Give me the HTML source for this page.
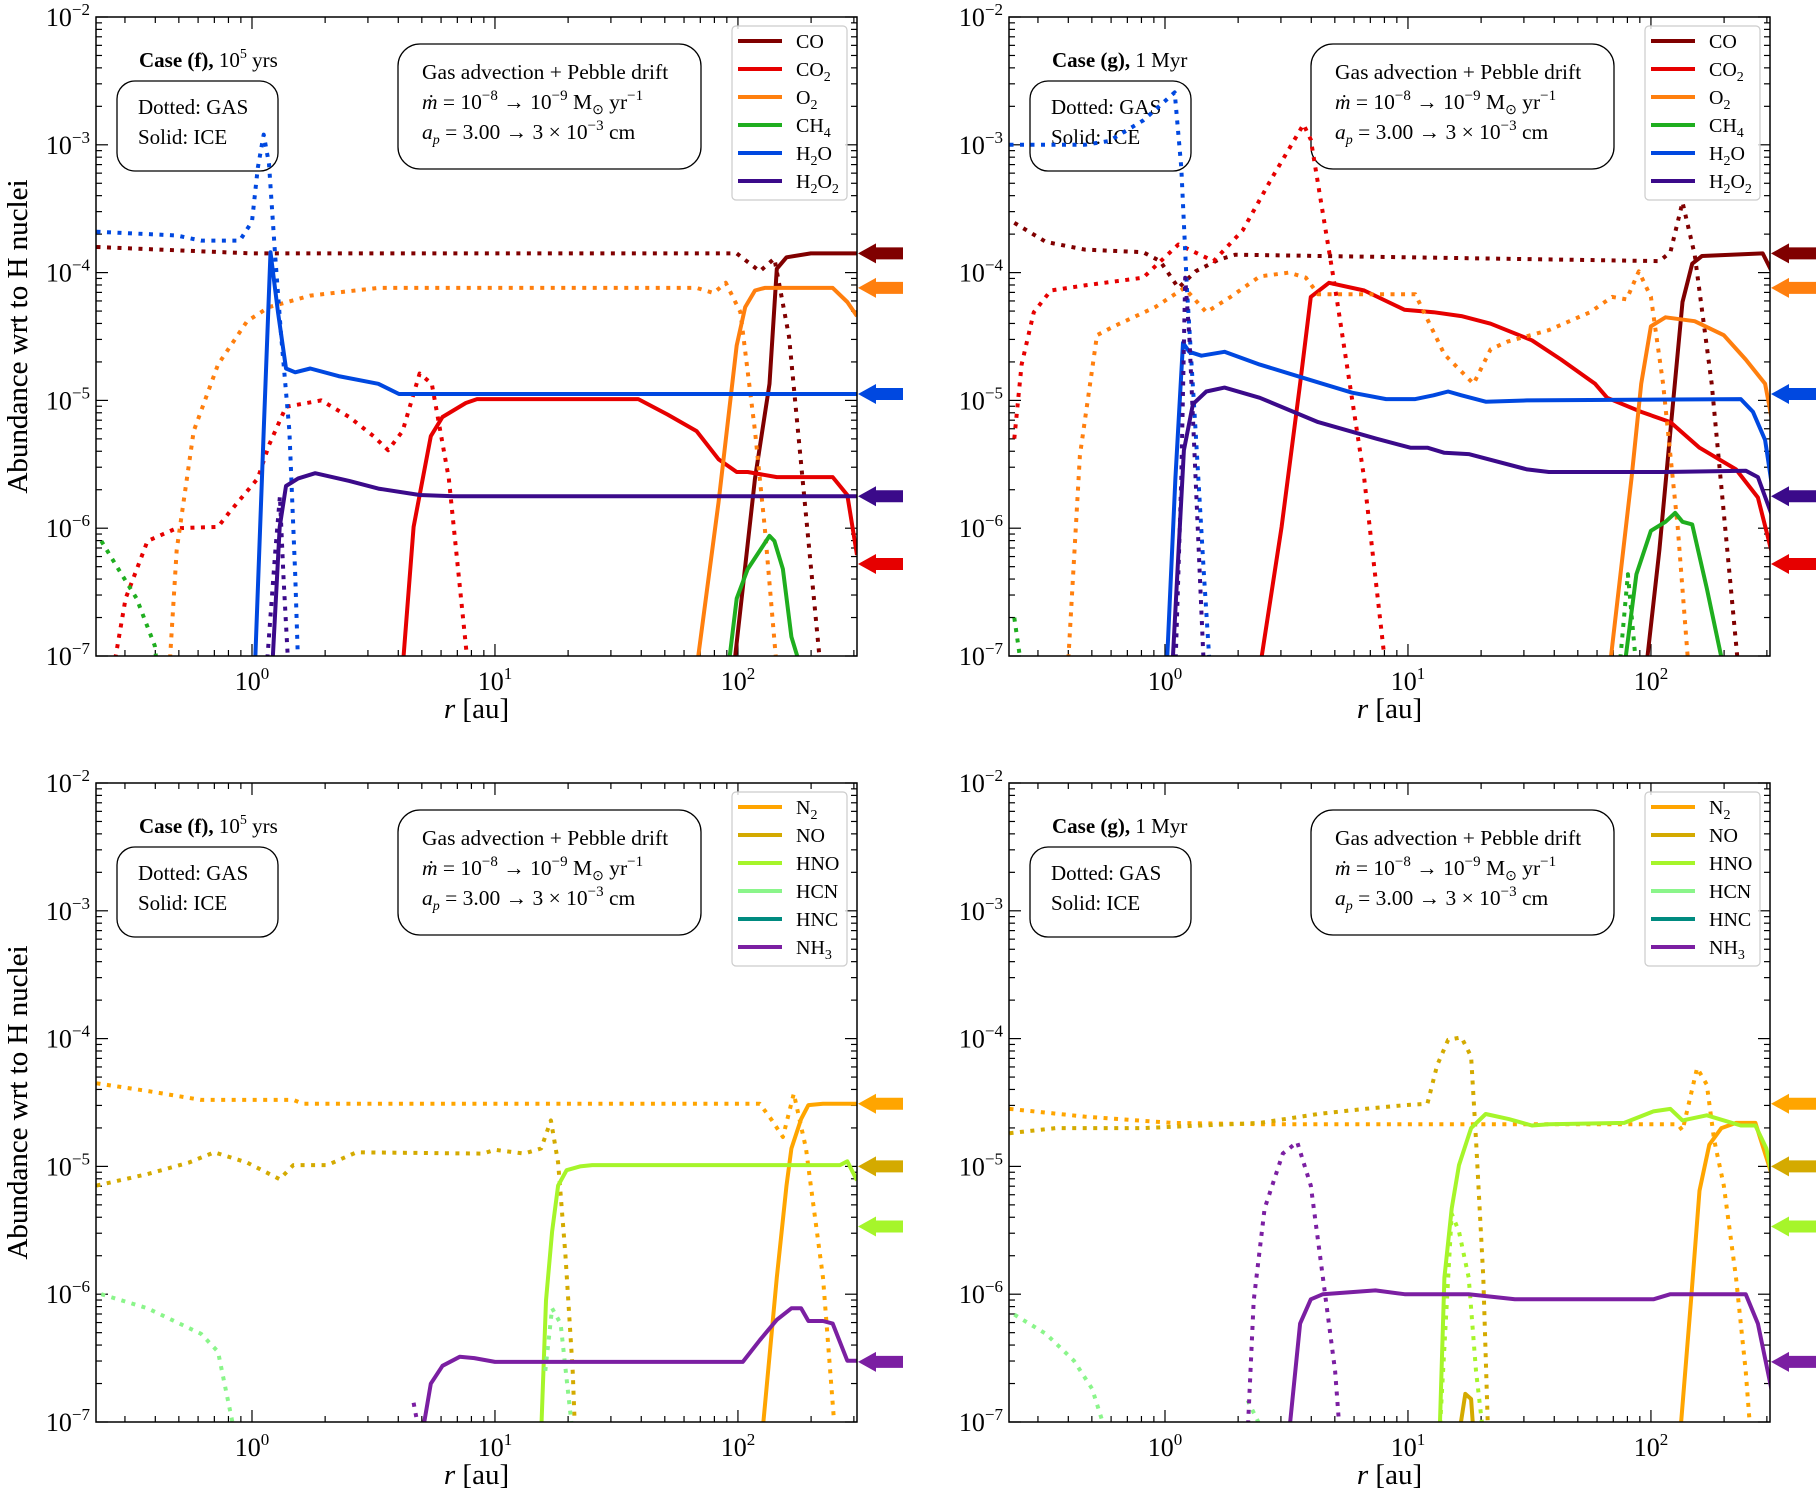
<!DOCTYPE html>
<html><head><meta charset="utf-8"><style>
html,body{margin:0;padding:0;background:#fff;}
svg{display:block;font-family:"Liberation Serif",serif;}
</style></head><body>
<svg id="fig" width="1819" height="1495" viewBox="0 0 1819 1495" xmlns="http://www.w3.org/2000/svg"></svg>
<script>
// ---- axis config ----
const XMIN=-0.642, XMAX=2.49, YTOP=-2, YBOT=-7;
const W=761, H=639;
const xTickExps=[0,1,2];
const yTickExps=[-2,-3,-4,-5,-6,-7];

// ---- data: flat [log10 r, log10 abundance] pairs ----
// Panel (f) top
const f_CO_gas=[-0.64,-3.80,0,-3.85,1.995,-3.85,2.09,-3.99,2.15,-3.89,2.21,-4.5,2.34,-7.1];
const f_CO_ice=[1.983,-7.1,2.07,-5.61,2.13,-4.87,2.16,-3.97,2.20,-3.88,2.30,-3.85,2.49,-3.85];
const f_CO2_gas=[-0.57,-7.1,-0.52,-6.55,-0.43,-6.10,-0.31,-6.0,-0.14,-5.99,-0.095,-5.88,0.024,-5.61,0.07,-5.35,0.14,-5.05,0.285,-5.0,0.40,-5.13,0.50,-5.28,0.56,-5.39,0.62,-5.24,0.69,-4.79,0.74,-4.87,0.81,-5.61,0.89,-7.1];
const f_CO2_ice=[0.62,-7.1,0.665,-5.99,0.736,-5.28,0.784,-5.13,0.88,-5.02,0.926,-4.99,1.59,-4.99,1.71,-5.11,1.83,-5.24,1.92,-5.46,1.995,-5.56,2.04,-5.56,2.16,-5.6,2.39,-5.6,2.45,-5.74,2.49,-6.21];
const f_O2_gas=[-0.34,-7.1,-0.31,-6.17,-0.24,-5.24,-0.14,-4.72,-0.02,-4.38,0.07,-4.27,0.24,-4.18,0.52,-4.12,1.83,-4.12,1.90,-4.16,1.95,-4.08,2.01,-4.31,2.07,-5.24,2.11,-5.99,2.16,-7.1];
const f_O2_ice=[1.83,-7.1,1.92,-5.80,1.995,-4.57,2.03,-4.27,2.07,-4.14,2.11,-4.12,2.39,-4.12,2.45,-4.23,2.49,-4.34];
const f_CH4_gas=[-0.62,-6.10,-0.55,-6.32,-0.475,-6.55,-0.40,-6.92,-0.39,-7.1];
const f_CH4_ice=[1.96,-7.1,1.995,-6.55,2.04,-6.32,2.13,-6.06,2.15,-6.1,2.185,-6.32,2.22,-6.85,2.26,-7.1];
const f_H2O_gas=[-0.64,-3.68,-0.31,-3.71,-0.21,-3.75,-0.05,-3.75,0,-3.60,0.024,-3.18,0.048,-2.92,0.07,-3.15,0.095,-3.86,0.12,-4.49,0.154,-5.24,0.178,-6.36,0.19,-7.1];
const f_H2O_ice=[0.012,-7.1,0.048,-5.24,0.076,-3.84,0.107,-4.31,0.14,-4.75,0.178,-4.78,0.24,-4.75,0.356,-4.81,0.52,-4.87,0.605,-4.95,2.49,-4.95];
const f_H2O2_gas=[0.06,-7.1,0.095,-6.2,0.115,-5.75,0.13,-6.4,0.15,-7.1];
const f_H2O2_ice=[0.083,-7.1,0.114,-5.99,0.14,-5.67,0.19,-5.61,0.26,-5.57,0.40,-5.63,0.52,-5.69,0.69,-5.74,0.83,-5.75,2.49,-5.75];
// Panel (g) top
const g_CO_gas=[-0.62,-3.61,-0.49,-3.76,-0.33,-3.82,-0.09,-3.84,-0.02,-3.91,0.055,-4.12,0.126,-3.99,0.22,-3.90,0.29,-3.86,2.035,-3.91,2.08,-3.84,2.13,-3.45,2.18,-3.86,2.25,-4.87,2.36,-7.1];
const g_CO_ice=[1.98,-7.1,2.035,-6.17,2.08,-5.24,2.13,-4.23,2.17,-3.93,2.21,-3.87,2.46,-3.85,2.51,-4.04];
const g_CO2_gas=[-0.62,-5.30,-0.59,-4.72,-0.54,-4.31,-0.47,-4.14,-0.33,-4.10,-0.09,-4.04,0.055,-3.78,0.10,-3.82,0.20,-3.91,0.32,-3.67,0.44,-3.26,0.57,-2.84,0.60,-2.96,0.70,-4.12,0.82,-5.61,0.90,-6.96,0.91,-7.1];
const g_CO2_ice=[0.39,-7.1,0.48,-5.99,0.556,-4.87,0.60,-4.19,0.675,-4.08,0.82,-4.14,0.985,-4.29,1.105,-4.31,1.22,-4.34,1.34,-4.40,1.51,-4.53,1.63,-4.68,1.77,-4.87,1.82,-4.98,1.96,-5.09,2.08,-5.17,2.20,-5.37,2.35,-5.54,2.44,-5.76,2.50,-6.21];
const g_O2_gas=[-0.40,-7.1,-0.35,-5.43,-0.28,-4.49,-0.21,-4.42,-0.04,-4.27,0.08,-4.12,0.17,-4.31,0.27,-4.19,0.39,-4.03,0.51,-4.00,0.58,-4.04,0.63,-4.17,1.03,-4.17,1.15,-4.64,1.27,-4.87,1.34,-4.60,1.41,-4.54,1.58,-4.45,1.75,-4.31,1.84,-4.19,1.90,-4.21,1.95,-3.99,2.0,-4.19,2.05,-4.87,2.11,-5.99,2.155,-7.1];
const g_O2_ice=[1.83,-7.1,1.92,-5.61,1.96,-4.87,2.0,-4.42,2.06,-4.35,2.18,-4.38,2.30,-4.49,2.39,-4.68,2.47,-4.87,2.50,-5.17];
const g_CH4_gas=[-0.62,-6.70,-0.59,-7.1];
const g_CH4_gas2=[1.87,-7.1,1.905,-6.36,1.94,-7.1];
const g_CH4_ice=[1.89,-7.1,1.94,-6.36,2.0,-6.02,2.06,-5.95,2.10,-5.88,2.13,-5.95,2.17,-5.97,2.23,-6.47,2.30,-7.1];
const g_H2O_gas=[-0.64,-3.0,-0.33,-3.0,-0.23,-2.97,-0.09,-2.81,0.04,-2.59,0.067,-3.18,0.09,-4.12,0.126,-5.24,0.16,-6.36,0.185,-7.1];
const g_H2O_ice=[0.007,-7.1,0.043,-5.61,0.074,-4.55,0.10,-4.62,0.15,-4.65,0.245,-4.62,0.39,-4.72,0.58,-4.83,0.77,-4.94,0.91,-4.99,1.03,-4.99,1.105,-4.96,1.165,-4.93,1.22,-4.96,1.32,-5.01,1.49,-5.0,2.37,-4.99,2.42,-5.09,2.47,-5.31,2.50,-5.69];
const g_H2O2_gas=[0.043,-7.1,0.067,-5.61,0.083,-4.04,0.10,-4.49,0.126,-5.61,0.16,-7.1];
const g_H2O2_ice=[0.03,-7.1,0.078,-5.39,0.115,-5.03,0.17,-4.93,0.245,-4.90,0.39,-4.98,0.63,-5.17,0.87,-5.30,1.01,-5.37,1.08,-5.37,1.15,-5.41,1.25,-5.42,1.49,-5.54,1.58,-5.56,2.06,-5.56,2.39,-5.55,2.44,-5.60,2.50,-5.91];
// Panel (f) bottom
const f_N2_gas=[-0.64,-4.35,-0.43,-4.41,-0.21,-4.48,0.17,-4.48,0.21,-4.51,2.09,-4.51,2.14,-4.64,2.185,-4.77,2.23,-4.43,2.28,-4.86,2.30,-5.15,2.35,-5.87,2.40,-7.1];
const f_N2_ice=[2.10,-7.1,2.16,-5.87,2.20,-5.15,2.22,-4.86,2.26,-4.63,2.29,-4.52,2.35,-4.51,2.49,-4.51];
const f_NO_gas=[-0.64,-5.15,-0.43,-5.06,-0.26,-4.97,-0.155,-4.89,-0.02,-4.97,0.114,-5.10,0.17,-4.99,0.31,-4.99,0.43,-4.89,0.95,-4.90,1.0,-4.87,1.12,-4.90,1.19,-4.86,1.23,-4.64,1.26,-4.97,1.29,-5.69,1.32,-6.60,1.33,-7.1];
const f_HNO_ice=[1.19,-7.1,1.21,-6.05,1.235,-5.51,1.26,-5.15,1.295,-5.03,1.35,-5.0,1.40,-4.99,2.42,-4.99,2.45,-4.96,2.49,-5.11];
const f_HCN_gas=[-0.62,-6.0,-0.43,-6.11,-0.21,-6.31,-0.14,-6.45,-0.07,-7.1];
const f_HCN_gas2=[1.207,-6.60,1.235,-6.11,1.27,-6.23,1.32,-7.1];
const f_NH3_gas=[0.665,-6.85,0.69,-7.1];
const f_NH3_ice=[0.70,-7.1,0.736,-6.70,0.784,-6.56,0.855,-6.49,0.915,-6.50,1.0,-6.53,2.02,-6.53,2.09,-6.36,2.16,-6.20,2.22,-6.11,2.26,-6.11,2.29,-6.21,2.35,-6.21,2.39,-6.23,2.45,-6.52,2.49,-6.52];
// Panel (g) bottom
const g_N2_gas=[-0.64,-4.55,-0.33,-4.61,0.03,-4.66,0.39,-4.67,2.11,-4.67,2.13,-4.72,2.19,-4.23,2.23,-4.36,2.26,-4.79,2.30,-5.15,2.35,-5.87,2.39,-6.60,2.41,-7.1];
const g_N2_ice=[2.12,-7.1,2.165,-6.05,2.20,-5.19,2.24,-4.83,2.29,-4.70,2.35,-4.66,2.43,-4.66,2.50,-5.08];
const g_NO_gas=[-0.64,-4.74,-0.45,-4.70,-0.09,-4.70,0.39,-4.66,0.63,-4.59,0.82,-4.55,0.99,-4.52,1.08,-4.51,1.12,-4.21,1.165,-4.01,1.22,-3.99,1.26,-4.14,1.28,-4.79,1.31,-5.87,1.33,-7.1];
const g_NO_ice=[1.21,-7.1,1.236,-6.78,1.26,-6.82,1.27,-7.1];
const g_HNO_gas=[1.13,-7.1,1.18,-5.37,1.21,-5.51,1.25,-5.87,1.28,-6.60,1.31,-7.1];
const g_HNO_ice=[1.13,-7.1,1.15,-5.87,1.18,-5.33,1.21,-4.99,1.26,-4.70,1.32,-4.59,1.415,-4.63,1.51,-4.68,1.58,-4.67,1.89,-4.66,2.01,-4.57,2.08,-4.55,2.13,-4.64,2.23,-4.60,2.30,-4.64,2.37,-4.68,2.43,-4.68,2.475,-4.86,2.50,-5.08];
const g_HCN_gas=[-0.62,-6.16,-0.49,-6.31,-0.375,-6.52,-0.30,-6.74,-0.24,-7.1];
const g_HCN_gas2=[0.34,-6.83,0.41,-7.1];
const g_NH3_gas=[0.34,-7.1,0.365,-6.05,0.41,-5.33,0.485,-4.90,0.544,-4.81,0.60,-5.15,0.65,-5.87,0.70,-6.60,0.72,-7.1];
const g_NH3_ice=[0.51,-7.1,0.556,-6.23,0.60,-6.04,0.65,-6.0,0.866,-5.97,0.986,-6.0,1.25,-6.0,1.44,-6.04,2.01,-6.04,2.08,-6.0,2.39,-6.0,2.44,-6.23,2.50,-6.78];

// ---- legends & arrows ----
const topNames=['CO','CO2','O2','CH4','H2O','H2O2'];
const topLabels=['CO','CO<tspan dy="5" font-size="14">2</tspan>','O<tspan dy="5" font-size="14">2</tspan>','CH<tspan dy="5" font-size="14">4</tspan>','H<tspan dy="5" font-size="14">2</tspan><tspan dy="-5">O</tspan>','H<tspan dy="5" font-size="14">2</tspan><tspan dy="-5">O</tspan><tspan dy="5" font-size="14">2</tspan>'];
const topColors=['#800000','#e60000','#ff7f0e','#1fae1f','#0048e0','#3b0a8a'];
const botNames=['N2','NO','HNO','HCN','HNC','NH3'];
const botLabels=['N<tspan dy="5" font-size="14">2</tspan>','NO','HNO','HCN','HNC','NH<tspan dy="5" font-size="14">3</tspan>'];
const botColors=['#ffa500','#d4aa00','#a6f52a','#8af58a','#008b80','#7b1fa2'];
const topArrowVals=[-3.85,-4.12,-4.95,-5.75,-6.28];
const topArrowColors=['#800000','#ff7f0e','#0048e0','#3b0a8a','#e60000'];
const botArrowVals=[-4.51,-5.0,-5.47,-6.53];
const botArrowColors=['#ffa500','#d4aa00','#a6f52a','#7b1fa2'];

const NS='http://www.w3.org/2000/svg';
const fig=document.getElementById('fig');
function el(tag,attrs,parent){const e=document.createElementNS(NS,tag);for(const k in attrs)e.setAttribute(k,attrs[k]);(parent||fig).appendChild(e);return e;}
function X(l){return (l-XMIN)/(XMAX-XMIN)*W;}
function Y(l){return (YTOP-l)/(YTOP-YBOT)*H;}

function drawPanel(p){
  const g=el('g',{transform:`translate(${p.ox},${p.oy})`});
  
  
  const cid='clip-'+p.name;
  const cp=el('clipPath',{id:cid},g);el('rect',{x:0,y:0,width:W,height:H},cp);
  // ticks
  const tk=el('g',{stroke:'#000','stroke-width':1.2},g);
  
  
  for(let d=-1;d<=2;d++)for(let k=1;k<=9;k++){
    const l=d+Math.log10(k); if(l<XMIN||l>XMAX)continue;
    const len=k===1?12:6, x=X(l);
    el('line',{x1:x,y1:H,x2:x,y2:H-len},tk);el('line',{x1:x,y1:0,x2:x,y2:len},tk);
  }
  for(let d=-7;d<=-2;d++)for(let k=1;k<=9;k++){
    const l=d+Math.log10(k); if(l>YTOP+1e-9)continue;
    const len=k===1?12:6, y=Y(l);
    el('line',{x1:0,y1:y,x2:len,y2:y},tk);el('line',{x1:W,y1:y,x2:W-len,y2:y},tk);
  }
  // tick labels
  xTickExps.forEach(e=>{
    const t=el('text',{x:X(e),y:H+34,'text-anchor':'middle','font-size':26},g);
    
    
    t.innerHTML=`10<tspan dy="-11" font-size="17">${e}</tspan>`;
  });
  yTickExps.forEach(e=>{
    const t=el('text',{x:-6,y:Y(e)+9,'text-anchor':'end','font-size':26},g);
    
    
    t.innerHTML=`10<tspan dy="-11" font-size="17">\u2212${-e}</tspan>`;
  });
  // axis titles
  const xt=el('text',{x:W/2,y:H+62,'text-anchor':'middle','font-size':29},g);
  
  
  xt.innerHTML='<tspan font-style="italic">r</tspan> [au]';
  const yt=el('text',{x:0,y:0,'text-anchor':'middle','font-size':29,transform:`translate(${-p.ox+27},${H/2}) rotate(-90)`},g);
  
  
  yt.textContent='Abundance wrt to H nuclei';
  // case label
  const cl=el('text',{x:43,y:50,'font-size':21},g);
  
  
  cl.innerHTML=p.caseHtml;
  // dotted/solid box
  const b1=el('rect',{x:21,y:64,width:161,height:90,rx:18,fill:'none',stroke:'#000','stroke-width':1.3},g);
  
  
  const t1=el('text',{x:42,y:97,'font-size':21},g);t1.textContent='Dotted:  GAS';
  
  
  const t2=el('text',{x:42,y:127,'font-size':21},g);t2.textContent='Solid:  ICE';
  
  
  // parameters box
  const b2=el('rect',{x:302,y:27,width:303,height:125,rx:22,fill:'none',stroke:'#000','stroke-width':1.3},g);
  
  
  const lines=['Gas advection + Pebble drift',
   '<tspan font-style="italic">ṁ</tspan> = 10<tspan dy="-9" font-size="15">\u22128</tspan><tspan dy="9"> \u2192 10</tspan><tspan dy="-9" font-size="15">\u22129</tspan><tspan dy="9"> M</tspan><tspan dy="5" font-size="14">\u2299</tspan><tspan dy="-5"> yr</tspan><tspan dy="-9" font-size="15">\u22121</tspan>',
   '<tspan font-style="italic">a</tspan><tspan dy="5" font-size="14" font-style="italic">p</tspan><tspan dy="-5"> = 3.00 \u2192 3 \u00d7 10</tspan><tspan dy="-9" font-size="15">\u22123</tspan><tspan dy="9"> cm</tspan>'];
  [62,92,122].forEach((yy,i)=>{
    const t=el('text',{x:326,y:yy,'font-size':21.5},g);
    
    
    t.innerHTML=lines[i];
  });
  // series
  const sg=el('g',{'clip-path':`url(#${cid})`,fill:'none','stroke-width':4},g);
  p.series.forEach(s=>{
    let d='';for(let i=0;i<s.data.length;i+=2)d+=(i?'L':'M')+X(s.data[i]).toFixed(1)+','+Y(s.data[i+1]).toFixed(1);
    const path=el('path',{d:d,stroke:s.color,'stroke-linejoin':'round'},sg);
    if(s.dotted)path.setAttribute('stroke-dasharray','4 6.5');
    
    
  });
  // arrows
  p.arrowVals.forEach((v,i)=>{
    const y=Y(v);
    const a=el('polygon',{points:`${W+1},${y} ${W+19},${y-10} ${W+19},${y-6} ${W+46},${y-6} ${W+46},${y+6} ${W+19},${y+6} ${W+19},${y+10}`,fill:p.arrowColors[i]},g);
    
    
  });
  // frame
  const fr=el('rect',{x:0,y:0,width:W,height:H,fill:'none',stroke:'#000','stroke-width':1.5},g);
  
  
  // legend
  const lg=el('g',{},g);
  
  
  el('rect',{x:636,y:9,width:115,height:174,rx:4,fill:'#fff','fill-opacity':0.8,stroke:'#ccc','stroke-width':1.2},lg);
  p.legNames.forEach((n,i)=>{
    const y=24+i*28;
    const ln=el('line',{x1:642,y1:y,x2:686,y2:y,stroke:p.legColors[i],'stroke-width':4},lg);
    
    
    const t=el('text',{x:700,y:y+7,'font-size':20},lg);
    
    
    t.innerHTML=p.legLabels[i];
  });
}

const C=topColors, B=botColors;
const caseF='<tspan font-weight="bold">Case (f),</tspan> 10<tspan dy="-9" font-size="14">5</tspan><tspan dy="9"> yrs</tspan>';
const caseG='<tspan font-weight="bold">Case (g),</tspan> 1 Myr';
drawPanel({name:'panel-f-oxygen',ox:96,oy:17,caseHtml:caseF,legNames:topNames,legLabels:topLabels,legColors:topColors,arrowVals:topArrowVals,arrowColors:topArrowColors,series:[
 {name:'co-gas',color:C[0],dotted:1,data:f_CO_gas},{name:'co-ice',color:C[0],data:f_CO_ice},
 {name:'co2-gas',color:C[1],dotted:1,data:f_CO2_gas},{name:'co2-ice',color:C[1],data:f_CO2_ice},
 {name:'o2-gas',color:C[2],dotted:1,data:f_O2_gas},{name:'o2-ice',color:C[2],data:f_O2_ice},
 {name:'ch4-gas',color:C[3],dotted:1,data:f_CH4_gas},{name:'ch4-ice',color:C[3],data:f_CH4_ice},
 {name:'h2o-gas',color:C[4],dotted:1,data:f_H2O_gas},{name:'h2o-ice',color:C[4],data:f_H2O_ice},
 {name:'h2o2-gas',color:C[5],dotted:1,data:f_H2O2_gas},{name:'h2o2-ice',color:C[5],data:f_H2O2_ice}]});
drawPanel({name:'panel-g-oxygen',ox:1009,oy:17,caseHtml:caseG,legNames:topNames,legLabels:topLabels,legColors:topColors,arrowVals:topArrowVals,arrowColors:topArrowColors,series:[
 {name:'co-gas',color:C[0],dotted:1,data:g_CO_gas},{name:'co-ice',color:C[0],data:g_CO_ice},
 {name:'co2-gas',color:C[1],dotted:1,data:g_CO2_gas},{name:'co2-ice',color:C[1],data:g_CO2_ice},
 {name:'o2-gas',color:C[2],dotted:1,data:g_O2_gas},{name:'o2-ice',color:C[2],data:g_O2_ice},
 {name:'ch4-gas',color:C[3],dotted:1,data:g_CH4_gas},{name:'ch4-gas-outer',color:C[3],dotted:1,data:g_CH4_gas2},{name:'ch4-ice',color:C[3],data:g_CH4_ice},
 {name:'h2o-gas',color:C[4],dotted:1,data:g_H2O_gas},{name:'h2o-ice',color:C[4],data:g_H2O_ice},
 {name:'h2o2-gas',color:C[5],dotted:1,data:g_H2O2_gas},{name:'h2o2-ice',color:C[5],data:g_H2O2_ice}]});
drawPanel({name:'panel-f-nitrogen',ox:96,oy:783,caseHtml:caseF,legNames:botNames,legLabels:botLabels,legColors:botColors,arrowVals:botArrowVals,arrowColors:botArrowColors,series:[
 {name:'n2-gas',color:B[0],dotted:1,data:f_N2_gas},{name:'n2-ice',color:B[0],data:f_N2_ice},
 {name:'no-gas',color:B[1],dotted:1,data:f_NO_gas},
 {name:'hno-ice',color:B[2],data:f_HNO_ice},
 {name:'hcn-gas',color:B[3],dotted:1,data:f_HCN_gas},{name:'hcn-gas-outer',color:B[3],dotted:1,data:f_HCN_gas2},
 {name:'nh3-gas',color:B[5],dotted:1,data:f_NH3_gas},{name:'nh3-ice',color:B[5],data:f_NH3_ice}]});
drawPanel({name:'panel-g-nitrogen',ox:1009,oy:783,caseHtml:caseG,legNames:botNames,legLabels:botLabels,legColors:botColors,arrowVals:botArrowVals,arrowColors:botArrowColors,series:[
 {name:'n2-gas',color:B[0],dotted:1,data:g_N2_gas},{name:'n2-ice',color:B[0],data:g_N2_ice},
 {name:'no-gas',color:B[1],dotted:1,data:g_NO_gas},{name:'no-ice',color:B[1],data:g_NO_ice},
 {name:'hno-gas',color:B[2],dotted:1,data:g_HNO_gas},{name:'hno-ice',color:B[2],data:g_HNO_ice},
 {name:'hcn-gas',color:B[3],dotted:1,data:g_HCN_gas},{name:'hcn-gas-mid',color:B[3],dotted:1,data:g_HCN_gas2},
 {name:'nh3-gas',color:B[5],dotted:1,data:g_NH3_gas},{name:'nh3-ice',color:B[5],data:g_NH3_ice}]});
</script>
</body></html>
